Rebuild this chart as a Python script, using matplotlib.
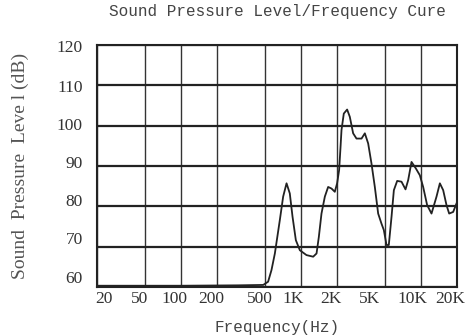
import matplotlib
matplotlib.use("Agg")
import matplotlib.pyplot as plt
import matplotlib.transforms as mtransforms

# values
freq_hz = [20, 100, 300, 487, 535, 571, 609, 670, 714, 762, 811, 855, 911,
           984, 1117, 1270, 1355, 1416, 1490, 1589, 1693, 1806, 1924, 2011,
           2090, 2150, 2187, 2286, 2437, 2565, 2735, 2916, 3212, 3423, 3648,
           3889, 4146, 4420, 4711, 4929, 5188, 5421, 5712, 5974, 6367, 6918,
           7470, 7863, 8382, 9106, 9834, 10480, 11310, 12300, 13540, 14440,
           15390, 16400, 17260, 18640, 19870]
spl_db = [60.3, 60.3, 60.4, 60.5, 61.3, 64.2, 68.3, 76.6, 82.4, 85.7, 83.2,
          77.4, 71.6, 69.1, 67.9, 67.5, 68.3, 72.4, 78.2, 82.4, 84.8, 84.4,
          83.6, 85.7, 89.0, 95.0, 98.9, 103.0, 104.0, 102.2, 98.1, 96.8, 96.8,
          98.1, 95.6, 90.6, 84.8, 78.2, 75.7, 74.1, 70.4, 70.4, 77.4, 84.0,
          86.3, 86.1, 84.2, 86.5, 91.0, 89.4, 87.7, 84.8, 80.3, 78.2, 82.4,
          85.7, 84.0, 80.3, 78.2, 78.6, 80.7]

x_ticks = [20, 50, 100, 200, 500, 1000, 2000, 5000, 10000, 20000]
x_labels = ["20", "50", "100", "200", "500", "1K", "2K", "5K", "10K", "20K"]
y_ticks = [60, 70, 80, 90, 100, 110, 120]

# small label nudges (pixels) seen in the scanned original
x_nudge = [7, -5, -6, -6, -5, -8, -6, -15, -8, -7]
y_nudge = [10, 9, 6, 4, 2, -1, -1]

serif = "Liberation Serif"
mono = "Liberation Mono"

fig = plt.figure(figsize=(4.7, 3.36), dpi=100)
ax = fig.add_axes([0.206, 0.146, 0.766, 0.72])

ax.plot(freq_hz, spl_db, color="#222222", linewidth=1.3)

ax.set_xscale("log")
ax.set_xlim(20, 20000)
ax.set_ylim(60, 120)
ax.set_xticks(x_ticks)
ax.set_xticklabels(x_labels)
ax.minorticks_off()
ax.set_yticks(y_ticks)

ax.tick_params(length=0, labelsize=12.5, colors="#333333")
ax.tick_params(axis="y", pad=10)
ax.tick_params(axis="x", pad=3)
for lab, dx in zip(ax.get_xticklabels(), x_nudge):
    lab.set_family(serif)
    lab.set_transform(lab.get_transform() + mtransforms.ScaledTranslation(dx / 100, 0, fig.dpi_scale_trans))
for lab, dy in zip(ax.get_yticklabels(), y_nudge):
    lab.set_family(serif)
    lab.set_transform(lab.get_transform() + mtransforms.ScaledTranslation(0, dy / 100, fig.dpi_scale_trans))

ax.xaxis.grid(True, color="#333333", linewidth=1.0)
ax.yaxis.grid(True, color="#222222", linewidth=1.6)
for s in ax.spines.values():
    s.set_color("#222222")
    s.set_linewidth(1.5)

fig.text(0.59, 0.965, "Sound Pressure Level/Frequency Cure",
         family=mono, fontsize=11.5, color="#444444", ha="center", va="center")
ax.set_xlabel("Frequency(Hz)", family=mono, fontsize=11.5, color="#444444",
              labelpad=9)
ax.set_ylabel("Sound  Pressure  Leve l (dB)", family=serif, fontsize=14,
              color="#555555", labelpad=20)

fig.savefig("out.png", dpi=100)
